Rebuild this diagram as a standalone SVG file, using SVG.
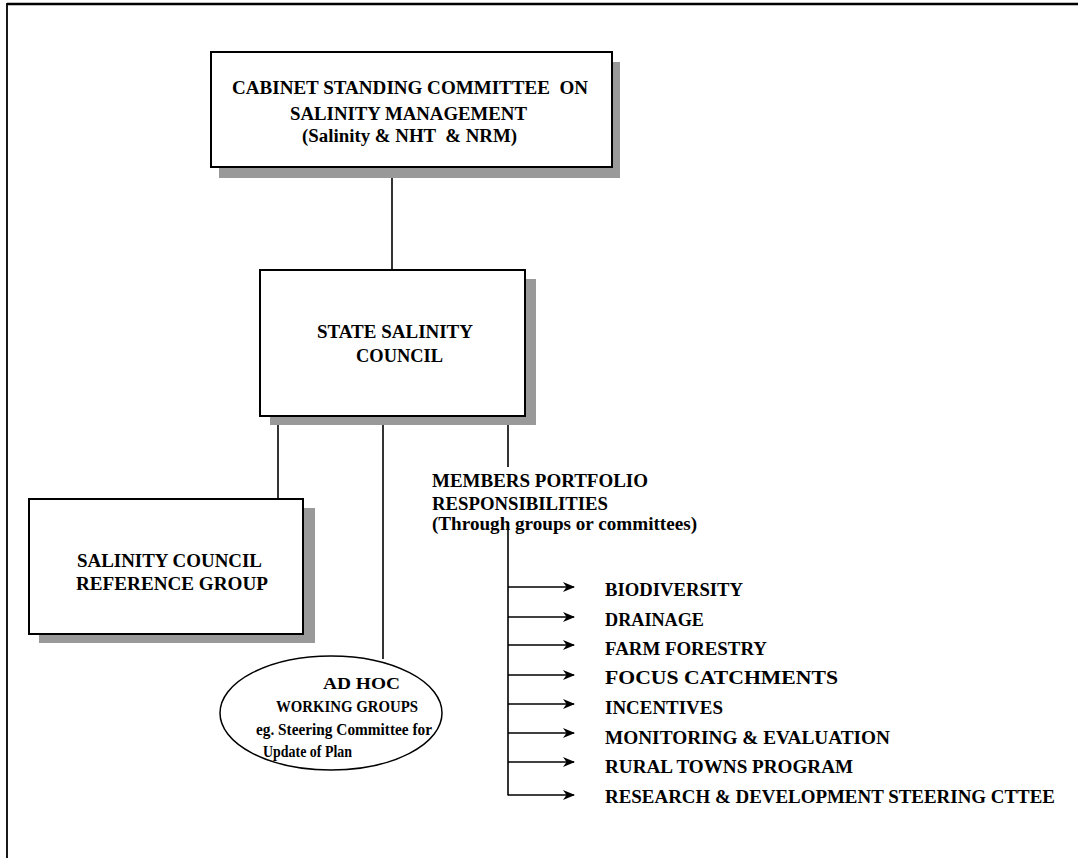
<svg xmlns="http://www.w3.org/2000/svg" width="1078" height="858" viewBox="0 0 1078 858">
  <style>
    .box { fill: #ffffff; stroke: #000000; stroke-width: 2; }
    .shadow { fill: #999999; stroke: none; }
    .line { stroke: #000000; stroke-width: 1.6; fill: none; }
    .frame { stroke: #000000; fill: none; }
    .t { font-family: "Liberation Serif", "Times New Roman", serif; font-weight: bold; font-size: 18px; fill: #000000; white-space: pre; }
    .s { font-size: 17px; }
  </style>
  <defs>
    <marker id="arrow" viewBox="0 0 12 12" refX="11" refY="6" markerWidth="12" markerHeight="12" markerUnits="userSpaceOnUse" orient="auto">
      <path d="M0,1 L12,6 L0,11 L3.5,6 Z" fill="#000000"/>
    </marker>
  </defs>

  <rect width="1078" height="858" fill="#ffffff"/>

  <!-- page frame: top and left rules only -->
  <g id="frame">
    <line class="frame" x1="7" y1="4" x2="1078" y2="4" stroke-width="2.5"/>
    <line class="frame" x1="7" y1="3" x2="7" y2="858" stroke-width="1.8"/>
  </g>

  <!-- connectors -->
  <g id="connectors">
    <line class="line" x1="392" y1="167" x2="392" y2="270"/>
    <line class="line" x1="278" y1="416" x2="278" y2="499"/>
    <line class="line" x1="383" y1="416" x2="383" y2="659"/>
    <line class="line" x1="508" y1="416" x2="508" y2="467"/>
    <line class="line" x1="508" y1="522" x2="508" y2="795.5"/>
    <line class="line" x1="508" y1="587" x2="574" y2="587" marker-end="url(#arrow)"/>
    <line class="line" x1="508" y1="617" x2="574" y2="617" marker-end="url(#arrow)"/>
    <line class="line" x1="508" y1="645" x2="574" y2="645" marker-end="url(#arrow)"/>
    <line class="line" x1="508" y1="675" x2="574" y2="675" marker-end="url(#arrow)"/>
    <line class="line" x1="508" y1="704" x2="574" y2="704" marker-end="url(#arrow)"/>
    <line class="line" x1="508" y1="733" x2="574" y2="733" marker-end="url(#arrow)"/>
    <line class="line" x1="508" y1="762" x2="574" y2="762" marker-end="url(#arrow)"/>
    <line class="line" x1="508" y1="795" x2="574" y2="795" marker-end="url(#arrow)"/>
  </g>

  <!-- cabinet committee -->
  <g id="cabinet-committee">
    <rect class="shadow" x="219" y="62" width="401" height="116"/>
    <rect class="box" x="211" y="52" width="401" height="115"/>
    <text class="t" x="232" y="94" textLength="356" lengthAdjust="spacingAndGlyphs">CABINET STANDING COMMITTEE  ON</text>
    <text class="t" x="290" y="120" textLength="237" lengthAdjust="spacingAndGlyphs">SALINITY MANAGEMENT</text>
    <text class="t" x="302" y="142" textLength="215" lengthAdjust="spacingAndGlyphs">(Salinity &amp; NHT  &amp; NRM)</text>
  </g>

  <!-- state salinity council -->
  <g id="state-council">
    <rect class="shadow" x="270" y="279" width="266" height="146"/>
    <rect class="box" x="260" y="270" width="265" height="146"/>
    <text class="t" x="317" y="338" textLength="156" lengthAdjust="spacingAndGlyphs">STATE SALINITY</text>
    <text class="t" x="356" y="362" textLength="87" lengthAdjust="spacingAndGlyphs">COUNCIL</text>
  </g>

  <!-- reference group -->
  <g id="reference-group">
    <rect class="shadow" x="39" y="508" width="276" height="135"/>
    <rect class="box" x="29" y="499" width="274" height="135"/>
    <text class="t" x="77" y="567" textLength="185" lengthAdjust="spacingAndGlyphs">SALINITY COUNCIL</text>
    <text class="t" x="76" y="590" textLength="192" lengthAdjust="spacingAndGlyphs">REFERENCE GROUP</text>
  </g>

  <!-- ad hoc working groups -->
  <g id="working-groups">
    <ellipse cx="331" cy="713" rx="111" ry="57" fill="#ffffff" stroke="#000000" stroke-width="1.5"/>
    <text class="t s" x="323" y="689" textLength="77" lengthAdjust="spacingAndGlyphs">AD HOC</text>
    <text class="t s" x="276" y="712" textLength="142" lengthAdjust="spacingAndGlyphs">WORKING GROUPS</text>
    <text class="t s" x="256" y="735" textLength="176" lengthAdjust="spacingAndGlyphs">eg. Steering Committee for</text>
    <text class="t s" x="263" y="757" textLength="89" lengthAdjust="spacingAndGlyphs">Update of Plan</text>
  </g>

  <!-- members portfolio heading -->
  <g id="members-portfolio">
    <text class="t" x="432" y="487" textLength="216" lengthAdjust="spacingAndGlyphs">MEMBERS PORTFOLIO</text>
    <text class="t" x="432" y="510" textLength="176" lengthAdjust="spacingAndGlyphs">RESPONSIBILITIES</text>
    <text class="t" x="432" y="530" textLength="265" lengthAdjust="spacingAndGlyphs">(Through groups or committees)</text>
  </g>

  <!-- portfolio items -->
  <g id="portfolio-items">
    <text class="t" x="605" y="596" textLength="138" lengthAdjust="spacingAndGlyphs">BIODIVERSITY</text>
    <text class="t" x="605" y="626" textLength="99" lengthAdjust="spacingAndGlyphs">DRAINAGE</text>
    <text class="t" x="605" y="655" textLength="162" lengthAdjust="spacingAndGlyphs">FARM FORESTRY</text>
    <text class="t" x="605" y="684" textLength="233" lengthAdjust="spacingAndGlyphs">FOCUS CATCHMENTS</text>
    <text class="t" x="605" y="714" textLength="118" lengthAdjust="spacingAndGlyphs">INCENTIVES</text>
    <text class="t" x="605" y="744" textLength="285" lengthAdjust="spacingAndGlyphs">MONITORING &amp; EVALUATION</text>
    <text class="t" x="605" y="773" textLength="248" lengthAdjust="spacingAndGlyphs">RURAL TOWNS PROGRAM</text>
    <text class="t" x="605" y="803" textLength="450" lengthAdjust="spacingAndGlyphs">RESEARCH &amp; DEVELOPMENT STEERING CTTEE</text>
  </g>
</svg>
